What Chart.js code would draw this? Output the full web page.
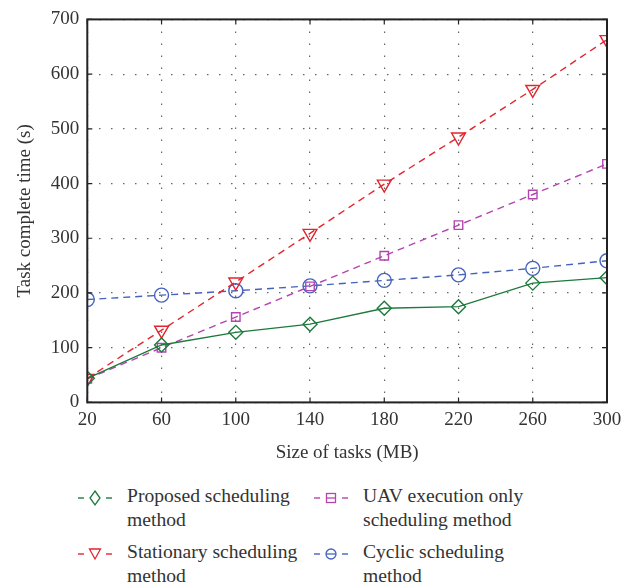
<!DOCTYPE html>
<html>
<head>
<meta charset="utf-8">
<script src="https://cdn.jsdelivr.net/npm/chart.js@4/dist/chart.umd.min.js"></script>
<style>
  html, body { margin: 0; padding: 0; background: #fff; }
  #wrap { position: relative; width: 634px; height: 588px; }
  #box { position: absolute; left: 0; top: 0; width: 634px; height: 470px; }
  #legend { position: absolute; left: 0; top: 484px; width: 634px; font-family: 'Liberation Serif', serif; font-size: 19.6px; color: #333; }
  .item { position: absolute; display: flex; align-items: flex-start; }
  .item svg { margin-top: 4px; flex: none; }
  .item span { margin-left: 12px; line-height: 24px; }
</style>
</head>
<body>
<div id="wrap">
  <div id="box"><canvas id="c"></canvas></div>
  <div id="legend"></div>
</div>
<script>
const sizes = [20, 60, 100, 140, 180, 220, 260, 300];
const proposed = [44, 105, 128, 143, 172, 175, 218, 228];
const stationary = [44, 132, 220, 309, 399, 485, 572, 663];
const uavOnly = [43, 100, 156, 212, 268, 324, 380, 436];
const cyclic = [188, 196, 204, 213, 223, 233, 245, 259];
const seriesNames = ['Proposed scheduling method', 'Stationary scheduling method', 'UAV execution only scheduling method', 'Cyclic scheduling method'];
const xTicks = [20, 60, 100, 140, 180, 220, 260, 300];
const yTicks = [0, 100, 200, 300, 400, 500, 600, 700];

const colors = ['#1d7a3c', '#e2252f', '#b344b0', '#4563bd'];
const styles = [
  { pointStyle: 'rectRot', radius: 7, rot: 0, dash: [] },
  { pointStyle: 'triangle', radius: 8, rot: 180, dash: [7, 5] },
  { pointStyle: 'rect', radius: 6, rot: 0, dash: [7, 5] },
  { pointStyle: 'circle', radius: 7, rot: 0, dash: [7, 5] }
];
const values = [proposed, stationary, uavOnly, cyclic];

const datasets = values.map((v, i) => ({
  label: seriesNames[i],
  data: sizes.map((x, j) => ({ x: x, y: v[j] })),
  borderColor: colors[i],
  backgroundColor: 'rgba(0,0,0,0)',
  borderWidth: 1.4,
  borderDash: styles[i].dash,
  pointStyle: styles[i].pointStyle,
  pointRadius: styles[i].radius,
  pointRotation: styles[i].rot,
  pointBorderWidth: 1.4,
  pointBorderColor: colors[i],
  pointBackgroundColor: 'rgba(0,0,0,0)',
  tension: 0
}));

const font = { family: "'Liberation Serif', serif", size: 19 };

const innerTicks = {
  id: 'innerTicks',
  afterDraw(chart) {
    const { ctx, chartArea: a, scales: { x, y } } = chart;
    ctx.save();
    ctx.strokeStyle = '#222';
    ctx.lineWidth = 1.2;
    ctx.beginPath();
    xTicks.forEach(t => {
      const px = x.getPixelForValue(t);
      ctx.moveTo(px, a.bottom); ctx.lineTo(px, a.bottom - 5);
      ctx.moveTo(px, a.top); ctx.lineTo(px, a.top + 5);
    });
    yTicks.forEach(t => {
      const py = y.getPixelForValue(t);
      ctx.moveTo(a.left, py); ctx.lineTo(a.left + 5, py);
      ctx.moveTo(a.right, py); ctx.lineTo(a.right - 5, py);
    });
    ctx.stroke();
    ctx.lineWidth = 2;
    ctx.strokeStyle = '#222';
    ctx.strokeRect(a.left, a.top, a.right - a.left, a.bottom - a.top);
    ctx.restore();
  }
};

new Chart(document.getElementById('c'), {
  type: 'line',
  data: { datasets },
  plugins: [innerTicks],
  options: {
    responsive: true,
    maintainAspectRatio: false,
    animation: false,
    layout: { padding: { left: 10, right: 27, top: 6, bottom: 2 } },
    plugins: { legend: { display: false }, tooltip: { enabled: false } },
    scales: {
      x: {
        type: 'linear', min: 20, max: 300,
        afterBuildTicks: s => { s.ticks = xTicks.map(v => ({ value: v })); },
        ticks: { font, color: '#333', padding: 6 },
        grid: { color: '#666', drawTicks: false, lineWidth: 1.2 },
        border: { display: false, dash: [1.5, 10.5] },
        title: { display: true, text: 'Size of tasks (MB)', font, color: '#333', padding: { top: 4 } }
      },
      y: {
        type: 'linear', min: 0, max: 700,
        afterBuildTicks: s => { s.ticks = yTicks.map(v => ({ value: v })); },
        ticks: { font, color: '#333', padding: 8 },
        grid: { color: '#666', drawTicks: false, lineWidth: 1.2 },
        border: { display: false, dash: [1.5, 10.5] },
        title: { display: true, text: 'Task complete time (s)', font, color: '#333', padding: { bottom: 6 } }
      }
    }
  }
});

// HTML legend
const legendLabels = [
  ['Proposed scheduling', 'method'],
  ['Stationary scheduling', 'method'],
  ['UAV execution only', 'scheduling method'],
  ['Cyclic scheduling', 'method']
];
const pos = [[75, 0], [75, 56], [311, 0], [311, 56]];
function markerSvg(i) {
  const c = colors[i];
  let m = '';
  if (i === 0) m = `<polygon points="20,3 25,10 20,17 15,10" fill="none" stroke="${c}" stroke-width="1.3"/>`;
  if (i === 1) m = `<polygon points="14.5,5 25.5,5 20,15" fill="none" stroke="${c}" stroke-width="1.3"/>`;
  if (i === 2) m = `<rect x="15.5" y="5.5" width="9" height="9" fill="none" stroke="${c}" stroke-width="1.3"/><line x1="15.5" y1="10" x2="24.5" y2="10" stroke="${c}" stroke-width="1.3"/>`;
  if (i === 3) m = `<circle cx="20" cy="10" r="5" fill="none" stroke="${c}" stroke-width="1.3"/><line x1="15" y1="10" x2="25" y2="10" stroke="${c}" stroke-width="1.3"/>`;
  return `<svg width="40" height="20"><line x1="3" y1="10" x2="9" y2="10" stroke="${c}" stroke-width="1.4"/><line x1="31" y1="10" x2="37" y2="10" stroke="${c}" stroke-width="1.4"/>${m}</svg>`;
}
const leg = document.getElementById('legend');
legendLabels.forEach((lines, i) => {
  const d = document.createElement('div');
  d.className = 'item';
  d.style.left = pos[i][0] + 'px';
  d.style.top = pos[i][1] + 'px';
  d.innerHTML = markerSvg(i) + '<span>' + lines.join('<br>') + '</span>';
  leg.appendChild(d);
});
</script>
</body>
</html>
